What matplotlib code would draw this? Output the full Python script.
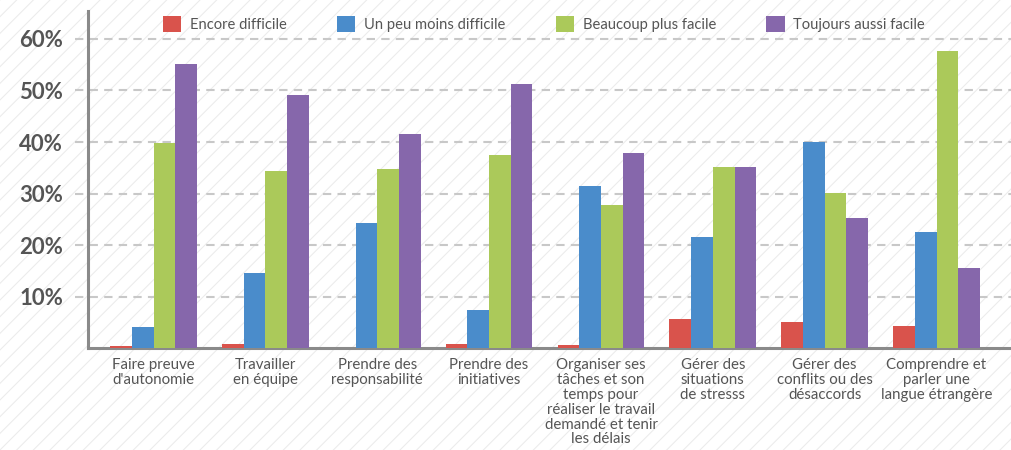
import numpy as np
import matplotlib
matplotlib.use("Agg")
import matplotlib.pyplot as plt
from matplotlib.patches import Rectangle

categories = ["Faire preuve\nd'autonomie", "Travailler\nen équipe",
              "Prendre des\nresponsabilité", "Prendre des\ninitiatives",
              "Organiser ses\ntâches et son\ntemps pour\nréaliser le travail\ndemandé et tenir\nles délais",
              "Gérer des\nsituations\nde stresss", "Gérer des\nconflits ou des\ndésaccords",
              "Comprendre et\nparler une\nlangue étrangère"]
series_names = ["Encore difficile", "Un peu moins difficile",
                "Beaucoup plus facile", "Toujours aussi facile"]
encore = [0.4, 0.8, 0.1, 0.9, 0.7, 5.7, 5.1, 4.3]
un_peu = [4.2, 14.6, 24.3, 7.4, 31.5, 21.6, 40.0, 22.5]
beaucoup = [39.8, 34.4, 34.8, 37.4, 27.8, 35.1, 30.1, 57.6]
toujours = [55.1, 49.1, 41.6, 51.2, 37.8, 35.1, 25.3, 15.5]
yticks = [10, 20, 30, 40, 50, 60]
colors = ["#d9534c", "#4a8ccb", "#abc95a", "#8667ab"]

plt.rcParams["font.family"] = ["Lato", "DejaVu Sans"]
plt.rcParams["hatch.color"] = "#ececec"
plt.rcParams["hatch.linewidth"] = 0.8

fig = plt.figure(figsize=(10.11, 4.5), dpi=100)
fig.patches.append(Rectangle((0, 0), 1, 1, transform=fig.transFigure,
                             facecolor="white", hatch="//", linewidth=0, zorder=-10))
ax = fig.add_axes([88 / 1011, 1 - 348.3 / 450, 1 - 88 / 1011, (348.3 - 11) / 450])
ax.patch.set_alpha(0)

x = np.arange(len(categories))
w = 0.194
data = [encore, un_peu, beaucoup, toujours]
for i, vals in enumerate(data):
    ax.bar(x + (i - 1.5) * w, vals, w, color=colors[i], label=series_names[i], zorder=3)

ax.set_xlim(-0.586, 7.666)
ax.set_ylim(0, 65.4)

for yv in yticks:
    ax.axhline(yv, xmin=-0.014, xmax=1, color="#c8c8c8", lw=1.5,
               linestyle=(0, (4, 3)), clip_on=False, zorder=1)

ax.set_yticks(yticks)
ax.set_yticklabels([f"{v}%" for v in yticks], fontsize=16, fontweight="bold", color="#555555")
ax.tick_params(axis="y", length=0, pad=18)
ax.set_xticks(x)
ax.set_xticklabels(categories, fontsize=10.8, color="#555555", linespacing=1.08, va="top")
ax.tick_params(axis="x", length=0, pad=7)

for s in ["top", "right"]:
    ax.spines[s].set_visible(False)
for s in ["left", "bottom"]:
    ax.spines[s].set_color("#8a8a8a")
    ax.spines[s].set_linewidth(2.2)
    ax.spines[s].set_zorder(2)

ax.legend(loc="center", bbox_to_anchor=(0.538, 1 - 24 / 450), bbox_transform=fig.transFigure,
          ncol=4, frameon=False, fontsize=10.6, handlelength=1.25, handleheight=1.25,
          handletextpad=0.6, columnspacing=3.4, labelcolor="#555555")

fig.savefig("out.png", dpi=100)
